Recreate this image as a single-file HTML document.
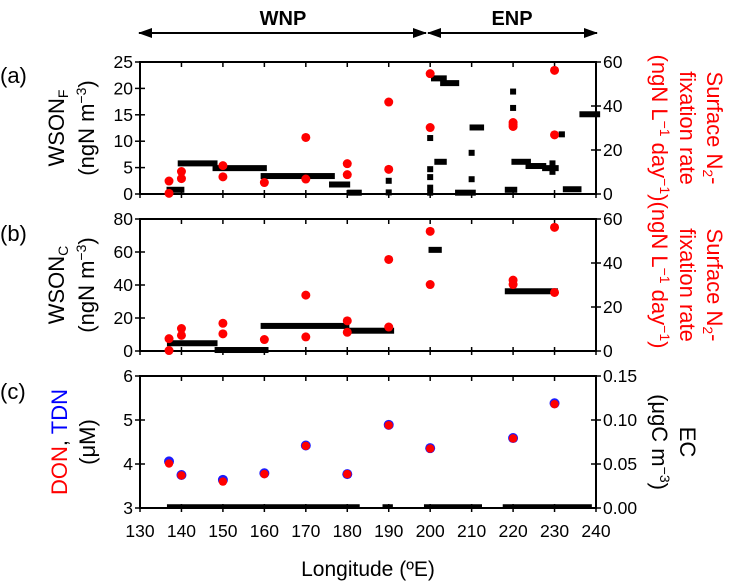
<!DOCTYPE html>
<html><head><meta charset="utf-8"><style>
body{margin:0;background:#fff}
svg{display:block;font-family:"Liberation Sans",Arial,sans-serif}
</style></head><body>
<svg id="c" width="733" height="581" viewBox="0 0 733 581"></svg>
<script>
const xTicks=[130,140,150,160,170,180,190,200,210,220,230,240];
// Panel a: WSON_F bars [start,end,value], squares [lon,value], N2 fixation [lon,value]
const aBars=[[136.4,140.7,0.8],[139.1,148.7,5.8],[147.5,160.6,4.9],[159.1,177,3.4],[175.6,180.7,1.8],[180,183.5,0.25],[200.2,204,21.9],[202.4,207,21],[201,204,6.1],[206,211,0.25],[209.5,213,12.6],[218,221,0.8],[219.6,224.3,6.1],[223,228,5.3],[227,231,4.9],[231,232.5,11.3],[232,236.5,0.9],[236,241,15.1]];
const aSquares=[[190,2.5],[190,0.3],[200,10.6],[200,4.7],[200,3.2],[200,1.2],[200,0.25],[210,7.8],[210,2.8],[220,19.4],[220,16.3],[229.5,5.8],[229.5,4.2]];
const aN2=[[137,5.9],[137,0.3],[140,10.2],[140,7.0],[150,12.9],[150,7.8],[160,5.2],[170,25.7],[170,6.8],[180,13.8],[180,8.8],[190,41.8],[190,11.2],[200,54.7],[200,30.2],[220,32.5],[220,31.5],[220,30.7],[230,56.2],[230,26.9]];
// Panel b
const bBars=[[136.5,148.7,4.7],[148,161,0.6],[159.1,180.5,15.2],[180,191.3,12.3],[199.6,202.8,61.3],[218,230.8,36.2]];
const bN2=[[137,5.6],[137,0.2],[140,10.2],[140,7.1],[150,12.6],[150,7.8],[160,5.2],[170,25.4],[170,6.4],[180,13.7],[180,8.5],[190,41.6],[190,10.9],[200,54.4],[200,30.2],[220,32.2],[220,30.2],[230,56.2],[230,26.6]];
// Panel c
const cLon=[137,140,150,160,170,180,190,200,220,230];
const cTDN=[4.06,3.75,3.64,3.79,4.42,3.77,4.89,4.36,4.59,5.38];
const cDON=[4.01,3.74,3.60,3.77,4.41,3.77,4.88,4.35,4.58,5.36];
const cEC=[[136.5,183,0.002],[188.5,191,0.002],[198.5,212.5,0.002],[217.5,239,0.002]];

const NS="http://www.w3.org/2000/svg";
const svg=document.getElementById('c');
function el(t,a,p){const e=document.createElementNS(NS,t);for(const k in a)e.setAttribute(k,a[k]);(p||svg).appendChild(e);return e;}
const X0=140,X1=596;
const sx=v=>X0+(v-130)*(X1-X0)/110;
const panels=[{top:62,bot:194},{top:219,bot:351},{top:376,bot:508}];
function sy(p,v,mn,mx){return p.bot-(v-mn)*(p.bot-p.top)/(mx-mn);}
function frame(p,name,lt,lmin,lmax,rt,rmin,rmax,rfmt,xlabels){
  const g=el('g',{});
  
  
  el('rect',{x:X0,y:p.top,width:X1-X0,height:p.bot-p.top,fill:'none',stroke:'#000','stroke-width':2},g);
  xTicks.forEach(t=>{const x=sx(t);
    el('line',{x1:x,x2:x,y1:p.top,y2:p.top+5,stroke:'#000','stroke-width':1.5},g);
    el('line',{x1:x,x2:x,y1:p.bot-4,y2:p.bot+4,stroke:'#000','stroke-width':1.5},g);
    if(xlabels){const tx=el('text',{x:x,y:p.bot+29,'text-anchor':'middle','font-size':17.5},g);tx.textContent=t;}
  });
  lt.forEach(t=>{const y=sy(p,t,lmin,lmax);
    el('line',{x1:X0-5,x2:X0+5,y1:y,y2:y,stroke:'#000','stroke-width':1.5},g);
    const tx=el('text',{x:X0-7,y:y+6,'text-anchor':'end','font-size':17.5},g);tx.textContent=t;});
  rt.forEach(t=>{const y=sy(p,t,rmin,rmax);
    el('line',{x1:X1-5,x2:X1+5,y1:y,y2:y,stroke:'#000','stroke-width':1.5},g);
    const tx=el('text',{x:X1+7,y:y+6,'font-size':17.5},g);tx.textContent=rfmt(t);});
}
const pa=panels[0],pb=panels[1],pc=panels[2];
frame(pa,'panel-a',[0,5,10,15,20,25],0,25,[0,20,40,60],0,60,t=>t);
frame(pb,'panel-b',[0,20,40,60,80],0,80,[0,20,40,60],0,60,t=>t);
frame(pc,'panel-c',[3,4,5,6],3,6,[0,0.05,0.1,0.15],0,0.15,t=>t.toFixed(2),true);

function bars(arr,p,mn,mx,h,name){arr.forEach(b=>{const y=sy(p,b[2],mn,mx);
  const r=el('rect',{x:sx(b[0]),y:y-h/2,width:sx(b[1])-sx(b[0]),height:h,fill:'#000'});
  
  });}
function squares(arr,p,mn,mx,name){arr.forEach(s=>{
  const r=el('rect',{x:sx(s[0])-3,y:sy(p,s[1],mn,mx)-3,width:6,height:6,fill:'#000'});
  
  });}
function dots(arr,p,mn,mx,col,name){arr.forEach(d=>{
  const c=el('circle',{cx:sx(d[0]),cy:sy(p,d[1],mn,mx),r:4.5,fill:col});
  
  });}
bars(aBars,pa,0,25,6,'wson-f-bar');
squares(aSquares,pa,0,25,'wson-f-point');
dots(aN2,pa,0,60,'#f00','n2-fixation-point');
bars(bBars,pb,0,80,6,'wson-c-bar');
dots(bN2,pb,0,60,'#f00','n2-fixation-point');
bars(cEC,pc,0,0.15,4,'ec-bar');
cLon.forEach((l,i)=>{
  const c=el('circle',{cx:sx(l),cy:sy(pc,cTDN[i],3,6),r:5,fill:'#1a1aff'});
  
  
  const d=el('circle',{cx:sx(l),cy:sy(pc,cDON[i],3,6),r:4.2,fill:'#f00'});
  
  
});
</script>
<svg width="733" height="581" style="position:absolute;left:0;top:0;font-family:'Liberation Sans',Arial,sans-serif">
  <defs><marker id="ah" markerUnits="userSpaceOnUse" markerWidth="14" markerHeight="10" refX="13" refY="5" orient="auto-start-reverse"><path d="M0,0 L14,5 L0,10 z" fill="#000"/></marker></defs>
  <line x1="139" y1="33" x2="426" y2="33" stroke="#000" stroke-width="2" marker-start="url(#ah)" marker-end="url(#ah)"/>
  <line x1="428" y1="33" x2="597" y2="33" stroke="#000" stroke-width="2" marker-start="url(#ah)" marker-end="url(#ah)"/>
  <text x="283" y="25" text-anchor="middle" font-size="20" font-weight="bold">WNP</text>
  <text x="512" y="25" text-anchor="middle" font-size="20" font-weight="bold">ENP</text>
  <text x="0" y="83" font-size="22">(a)</text>
  <text x="0" y="241" font-size="22">(b)</text>
  <text x="0" y="399" font-size="22">(c)</text>
  <text transform="translate(64,128) rotate(-90)" text-anchor="middle" font-size="22">WSON<tspan font-size="14" dy="4">F</tspan></text>
  <text transform="translate(94,128) rotate(-90)" text-anchor="middle" font-size="22">(ngN m<tspan font-size="14" dy="-8">−3</tspan><tspan dy="8">)</tspan></text>
  <text transform="translate(64,285) rotate(-90)" text-anchor="middle" font-size="22">WSON<tspan font-size="14" dy="4">C</tspan></text>
  <text transform="translate(94,285) rotate(-90)" text-anchor="middle" font-size="22">(ngN m<tspan font-size="14" dy="-8">−3</tspan><tspan dy="8">)</tspan></text>
  <text transform="translate(67,442) rotate(-90)" text-anchor="middle" font-size="22"><tspan fill="#f00">DON</tspan>, <tspan fill="#00f">TDN</tspan></text>
  <text transform="translate(95,442) rotate(-90)" text-anchor="middle" font-size="22">(μM)</text>
  <g fill="#f00" font-size="22">
    <text transform="translate(707,128) rotate(90)" text-anchor="middle">Surface N<tspan font-size="14" dy="4">2</tspan><tspan dy="-4">-</tspan></text>
    <text transform="translate(680,128) rotate(90)" text-anchor="middle">fixation rate</text>
    <text transform="translate(652,128) rotate(90)" text-anchor="middle">(ngN L<tspan font-size="14" dy="-8">−1</tspan><tspan dy="8"> day</tspan><tspan font-size="14" dy="-8">−1</tspan><tspan dy="8">)</tspan></text>
    <text transform="translate(707,285) rotate(90)" text-anchor="middle">Surface N<tspan font-size="14" dy="4">2</tspan><tspan dy="-4">-</tspan></text>
    <text transform="translate(680,285) rotate(90)" text-anchor="middle">fixation rate</text>
    <text transform="translate(652,275) rotate(90)" text-anchor="middle">(ngN L<tspan font-size="14" dy="-8">−1</tspan><tspan dy="8"> day</tspan><tspan font-size="14" dy="-8">−1</tspan><tspan dy="8">)</tspan></text>
  </g>
  <text transform="translate(680,442) rotate(90)" text-anchor="middle" font-size="22">EC</text>
  <text transform="translate(652,442) rotate(90)" text-anchor="middle" font-size="22">(μgC m<tspan font-size="14" dy="-8">−3</tspan><tspan dy="8">)</tspan></text>
  <text x="368" y="576" text-anchor="middle" font-size="21">Longitude (ºE)</text>
</svg>
</body></html>
